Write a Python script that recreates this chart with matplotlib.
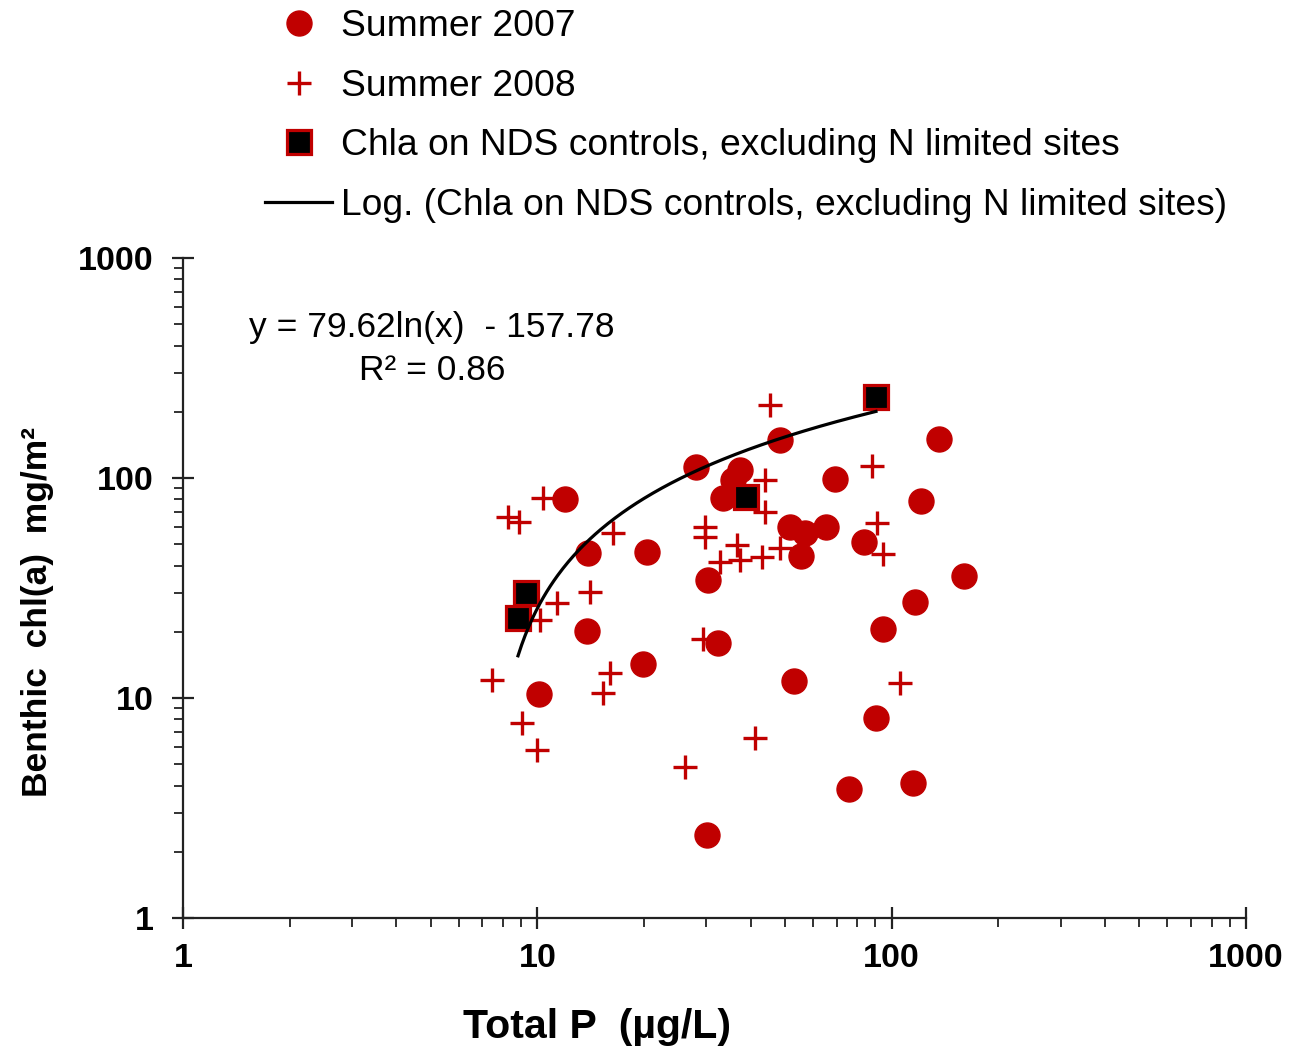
import numpy as np
import matplotlib
matplotlib.use("Agg")
import matplotlib.pyplot as plt
from matplotlib.ticker import FixedLocator, FixedFormatter, LogLocator, NullFormatter

plt.rcParams['font.family'] = ['Liberation Sans', 'DejaVu Sans']

# ---- data ----
tp_2007 = [11.97, 13.9, 13.8, 10.1, 19.9, 20.4, 28.0, 33.4, 37.3, 35.7, 48.4, 69.2,
           136, 121, 51.6, 56.9, 65.3, 55.5, 83.5, 30.3, 160, 116, 94.6, 32.4, 53,
           90.3, 75.8, 115, 30.1]
chl_2007 = [80.3, 45.6, 20.2, 10.4, 14.3, 46, 112, 81, 109, 98, 149, 99,
            150, 78.6, 59.9, 56.2, 59.9, 44.2, 51.2, 34.4, 35.9, 27.3, 20.6, 17.8, 11.9,
            8.1, 3.86, 4.11, 2.38]

tp_2008 = [8.27, 8.88, 10.4, 16.3, 14.1, 11.4, 10.2, 7.45, 16.0, 15.3, 9.05, 9.98,
           29.3, 41.1, 26.1, 105.6, 29.7, 29.7, 36.6, 32.8, 37.3, 43.1, 48.4, 45.4,
           43.9, 43.9, 88, 90.9, 94.6]
chl_2008 = [66.5, 63.1, 81.1, 56.2, 30.3, 27, 22.6, 12.1, 13.0, 10.5, 7.7, 5.8,
            18.5, 6.6, 4.86, 11.7, 59.9, 53.9, 49.6, 41.5, 42.4, 43.7, 48.1, 215,
            98, 70, 113, 62.4, 45.1]

tp_nds = [8.82, 9.29, 38.8, 90.3]
chl_nds = [23.1, 30.0, 82.0, 233]

fit_slope = 79.62
fit_intercept = -157.78

tick_values = [1, 10, 100, 1000]
tick_labels = ['1', '10', '100', '1000']

labels = ['Summer 2007', 'Summer 2008',
          'Chla on NDS controls, excluding N limited sites',
          'Log. (Chla on NDS controls, excluding N limited sites)']
eq_line1 = 'y = 79.62ln(x)  - 157.78'
eq_line2 = 'R² = 0.86'
xlabel = 'Total P  (µg/L)'
ylabel = 'Benthic  chl(a)  mg/m²'

# ---- figure ----
W, H = 1303, 1047
fig = plt.figure(figsize=(W / 100, H / 100), dpi=100)
ax = fig.add_axes([183 / W, 1 - 918 / H, 1063 / W, 660 / H])

red = '#C00000'

h1, = ax.plot(tp_2007, chl_2007, 'o', ms=18, color=red, mec=red, ls='none', zorder=2)
h2, = ax.plot(tp_2008, chl_2008, '+', ms=17, mew=2.4, color=red, ls='none', zorder=3)
h3, = ax.plot(tp_nds, chl_nds, 's', ms=17.5, mfc='black', mec=red, mew=2.3, ls='none', zorder=4)
xfit = np.geomspace(min(tp_nds), max(tp_nds), 200)
yfit = fit_slope * np.log(xfit) + fit_intercept
h4, = ax.plot(xfit, yfit, color='black', lw=2.3, zorder=5)

ax.set_xscale('log')
ax.set_yscale('log')
ax.set_xlim(1, 1000)
ax.set_ylim(1, 1000)

for s in ['top', 'right']:
    ax.spines[s].set_visible(False)
for s in ['left', 'bottom']:
    ax.spines[s].set_linewidth(1.6)
    ax.spines[s].set_color('#222222')

for axis in (ax.xaxis, ax.yaxis):
    axis.set_major_locator(FixedLocator(tick_values))
    axis.set_major_formatter(FixedFormatter(tick_labels))
    axis.set_minor_locator(LogLocator(base=10, subs=np.arange(2, 10)))
    axis.set_minor_formatter(NullFormatter())

ax.tick_params(which='major', direction='inout', length=16, width=1.6, color='#222222',
               labelsize=24.5)
ax.tick_params(which='minor', direction='out', length=6.5, width=1.3, color='#222222')
ax.tick_params(axis='x', which='major', pad=10)
ax.tick_params(axis='y', which='major', pad=13)
for lab in ax.get_xticklabels() + ax.get_yticklabels():
    lab.set_fontweight('bold')

ax.set_xlabel(xlabel, fontsize=29.5, fontweight='bold')
ax.xaxis.set_label_coords((597 - 183) / 1063, -0.136)
ax.set_ylabel(ylabel, fontsize=25.5, fontweight='bold')
ax.yaxis.set_label_coords((54 - 183) / 1063, 0.464)

fig.text(432 / W, 1 - 327 / H, eq_line1, fontsize=25.5, ha='center', va='center')
fig.text(432 / W, 1 - 370 / H, eq_line2, fontsize=25.5, ha='center', va='center')

fs_leg = 26.8
fspx = fs_leg * 100 / 72
fig.legend([h1, h2, h3, h4], labels, loc='upper left',
           bbox_to_anchor=(265 / W, 1 - 9 / H), frameon=False, fontsize=fs_leg,
           handlelength=67 / fspx, handletextpad=9 / fspx, labelspacing=0.66,
           borderpad=0, borderaxespad=0, numpoints=1)

fig.savefig('out.png', dpi=100)
